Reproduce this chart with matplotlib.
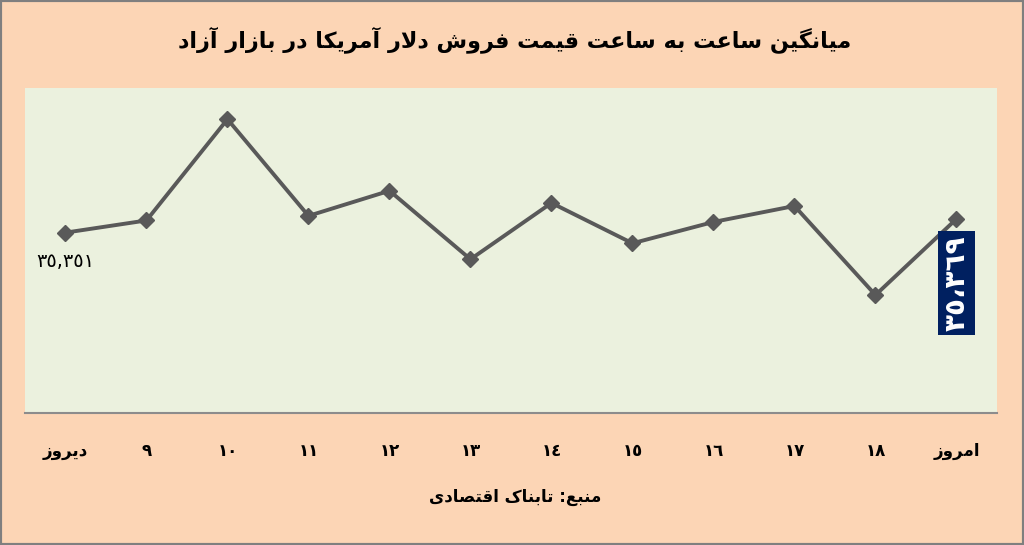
import re
import numpy as np
import matplotlib
matplotlib.use('Agg')
import matplotlib.pyplot as plt
from matplotlib.patches import Rectangle

title = 'میانگین ساعت به ساعت قیمت فروش دلار آمریکا در بازار آزاد'
source = 'منبع: تابناک اقتصادی'
categories = ['دیروز', '٩', '١٠', '١١', '١٢', '١٣', '١٤', '١٥', '١٦', '١٧', '١٨', 'امروز']
prices = [35351, 35367, 35500, 35373, 35406, 35316, 35390, 35337, 35365, 35386, 35269, 35369]

# presentation forms: isolated, final, initial, medial
FORMS = {
    'ا': (0xFE8D, 0xFE8E), 'آ': (0xFE81, 0xFE82),
    'ب': (0xFE8F, 0xFE90, 0xFE91, 0xFE92), 'ت': (0xFE95, 0xFE96, 0xFE97, 0xFE98),
    'ث': (0xFE99, 0xFE9A, 0xFE9B, 0xFE9C), 'ج': (0xFE9D, 0xFE9E, 0xFE9F, 0xFEA0),
    'ح': (0xFEA1, 0xFEA2, 0xFEA3, 0xFEA4), 'خ': (0xFEA5, 0xFEA6, 0xFEA7, 0xFEA8),
    'د': (0xFEA9, 0xFEAA), 'ذ': (0xFEAB, 0xFEAC), 'ر': (0xFEAD, 0xFEAE),
    'ز': (0xFEAF, 0xFEB0), 'ژ': (0xFB8A, 0xFB8B), 'و': (0xFEED, 0xFEEE),
    'س': (0xFEB1, 0xFEB2, 0xFEB3, 0xFEB4), 'ش': (0xFEB5, 0xFEB6, 0xFEB7, 0xFEB8),
    'ص': (0xFEB9, 0xFEBA, 0xFEBB, 0xFEBC), 'ض': (0xFEBD, 0xFEBE, 0xFEBF, 0xFEC0),
    'ط': (0xFEC1, 0xFEC2, 0xFEC3, 0xFEC4), 'ظ': (0xFEC5, 0xFEC6, 0xFEC7, 0xFEC8),
    'ع': (0xFEC9, 0xFECA, 0xFECB, 0xFECC), 'غ': (0xFECD, 0xFECE, 0xFECF, 0xFED0),
    'ف': (0xFED1, 0xFED2, 0xFED3, 0xFED4), 'ق': (0xFED5, 0xFED6, 0xFED7, 0xFED8),
    'ک': (0xFB8E, 0xFB8F, 0xFB90, 0xFB91), 'گ': (0xFB92, 0xFB93, 0xFB94, 0xFB95),
    'ل': (0xFEDD, 0xFEDE, 0xFEDF, 0xFEE0), 'م': (0xFEE1, 0xFEE2, 0xFEE3, 0xFEE4),
    'ن': (0xFEE5, 0xFEE6, 0xFEE7, 0xFEE8), 'ه': (0xFEE9, 0xFEEA, 0xFEEB, 0xFEEC),
    'ی': (0xFBFC, 0xFBFD, 0xFBFE, 0xFBFF), 'پ': (0xFB56, 0xFB57, 0xFB58, 0xFB59),
    'چ': (0xFB7A, 0xFB7B, 0xFB7C, 0xFB7D),
}
LAM_ALEF = {'ا': (0xFEFB, 0xFEFC), 'آ': (0xFEF5, 0xFEF6)}


def joins_next(c):
    return c in FORMS and len(FORMS[c]) == 4


def fa(text):
    '''shape persian letters and put them in visual order'''
    out = []
    i, n = 0, len(text)
    while i < n:
        c = text[i]
        if c not in FORMS:
            out.append(c)
            i += 1
            continue
        prev = i > 0 and joins_next(text[i - 1])
        if c == 'ل' and i + 1 < n and text[i + 1] in LAM_ALEF:
            out.append(chr(LAM_ALEF[text[i + 1]][1 if prev else 0]))
            i += 2
            continue
        nxt = i + 1 < n and text[i + 1] in FORMS and joins_next(c)
        f = FORMS[c]
        if prev and nxt:
            out.append(chr(f[3]))
        elif prev:
            out.append(chr(f[1]))
        elif nxt:
            out.append(chr(f[2]))
        else:
            out.append(chr(f[0]))
        i += 1
    vis = ''.join(reversed(out))
    # numbers stay left to right
    return re.sub(r'[\d٠-٩]+', lambda m: m.group(0)[::-1], vis)


def ar_digits(v, sep=','):
    s = f'{v:,}'.replace(',', sep)
    return ''.join(chr(0x0660 + int(ch)) if ch.isdigit() else ch for ch in s)


plt.rcParams['font.family'] = ['DejaVu Sans']

fig = plt.figure(figsize=(10.24, 5.45), dpi=100)
fig.patch.set_facecolor('#FCD5B5')
ax = fig.add_axes([0.0244, 0.2422, 0.9492, 0.5963])
ax.set_facecolor('#EBF1DE')

x = np.arange(len(prices))
ax.plot(x, prices, color='#595959', lw=2.8, marker='D', markersize=8,
        markerfacecolor='#595959', markeredgecolor='#595959')

ax.set_xlim(-0.5, len(prices) - 0.5)
ax.set_ylim(35114, 35541)
ax.set_yticks([])
ax.set_xticks(x)
ax.set_xticklabels([fa(c) for c in categories], fontsize=12, fontweight='bold')
ax.tick_params(axis='x', length=0, pad=21)
for s in ['top', 'left', 'right']:
    ax.spines[s].set_visible(False)
ax.spines['bottom'].set_color('#8C8C8C')
ax.spines['bottom'].set_linewidth(1.5)

# first and last values
ax.annotate(ar_digits(prices[0]), (x[0], prices[0]), xytext=(0, -14),
            textcoords='offset points', ha='center', va='top', fontsize=14)
ax.annotate(ar_digits(prices[-1], '،'), (x[-1], prices[-1]), xytext=(0, -12),
            textcoords='offset points', ha='center', va='top', rotation=90,
            fontsize=20, fontweight='bold', color='white',
            bbox=dict(boxstyle='square,pad=0.15', fc='#002060', ec='none'))

fig.text(0.503, 0.927, fa(title), ha='center', va='center', fontsize=16, fontweight='bold')
fig.text(0.503, 0.088, fa(source), ha='center', va='center', fontsize=12, fontweight='bold')

fig.add_artist(Rectangle((0, 0), 1, 1, transform=fig.transFigure, fill=False,
                         edgecolor='#7F7F7F', lw=3))

fig.savefig('out.png', dpi=100, facecolor=fig.get_facecolor())
